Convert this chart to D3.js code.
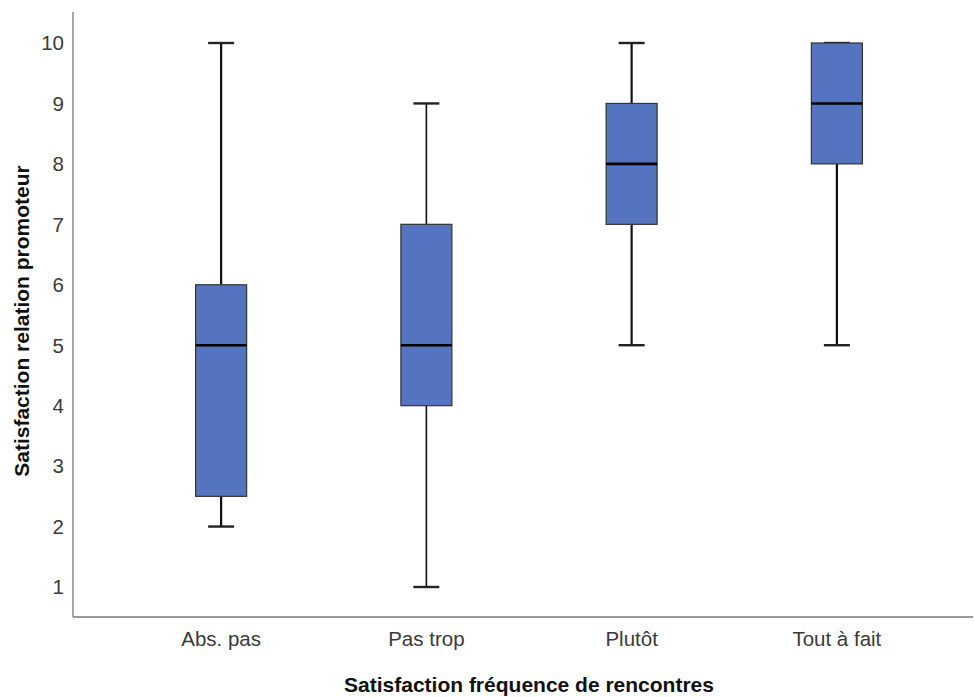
<!DOCTYPE html>
<html><head><meta charset="utf-8">
<script src="https://cdn.jsdelivr.net/npm/d3@7"></script>
<style>body{margin:0;background:#fff}svg{display:block}text{font-family:"Liberation Sans",Arial,sans-serif}</style>
</head><body><svg id="c" width="974" height="697"></svg>
<script>
const categories = ["Abs. pas", "Pas trop", "Plutôt", "Tout à fait"];
const whiskerLow = [2, 1, 5, 5];
const q1 = [2.5, 4, 7, 8];
const median = [5, 5, 8, 9];
const q3 = [6, 7, 9, 10];
const whiskerHigh = [10, 9, 10, 10];
const yTicks = [1, 2, 3, 4, 5, 6, 7, 8, 9, 10];

(function () {
const svg = d3.select("#c");
const pLeft = 73, pRight = 973, pTop = 12, pBottom = 617;
const x = d3.scaleBand().domain(categories).range([118.5, 939.5]);
const y = d3.scaleLinear().domain([1, 10]).range([587, 43]);
const boxW = 51, capW = 26;

// axes
svg.append("line").attr("x1", pLeft).attr("x2", pLeft).attr("y1", pTop).attr("y2", pBottom).attr("stroke", "#777").attr("stroke-width", 1.3);
svg.append("line").attr("x1", pLeft).attr("x2", pRight).attr("y1", pBottom).attr("y2", pBottom).attr("stroke", "#777").attr("stroke-width", 1.3);

svg.selectAll(".yt").data(yTicks).join("text")
  .attr("x", 64).attr("y", d => y(d)).attr("dy", "0.36em")
  .attr("text-anchor", "end").attr("font-size", 20.5).attr("fill", "#3a3a3a").text(d => d);

svg.selectAll(".xt").data(categories).join("text")
  .attr("x", d => x(d) + x.bandwidth() / 2).attr("y", 646)
  .attr("text-anchor", "middle").attr("font-size", 20.5).attr("fill", "#3a3a3a").text(d => d);

svg.append("text").attr("x", 529).attr("y", 692).attr("text-anchor", "middle")
  .attr("font-size", 21).attr("font-weight", "bold").attr("fill", "#111").text("Satisfaction fréquence de rencontres");
svg.append("text").attr("transform", "translate(29,321) rotate(-90)").attr("text-anchor", "middle")
  .attr("font-size", 21).attr("font-weight", "bold").attr("fill", "#111").text("Satisfaction relation promoteur");

const g = svg.selectAll(".box").data(categories.map((c, i) => ({c, i}))).join("g");
const cx = d => x(d.c) + x.bandwidth() / 2;
// whisker stems
g.append("line").attr("x1", cx).attr("x2", cx).attr("y1", d => y(q3[d.i])).attr("y2", d => y(whiskerHigh[d.i])).attr("stroke", "#111").attr("stroke-width", d => d.i === 1 ? 1.6 : 2.2);
g.append("line").attr("x1", cx).attr("x2", cx).attr("y1", d => y(q1[d.i])).attr("y2", d => y(whiskerLow[d.i])).attr("stroke", "#111").attr("stroke-width", d => d.i === 1 ? 1.6 : 2.2);
// caps
g.append("line").attr("x1", d => cx(d) - capW / 2).attr("x2", d => cx(d) + capW / 2).attr("y1", d => y(whiskerHigh[d.i])).attr("y2", d => y(whiskerHigh[d.i])).attr("stroke", "#222").attr("stroke-width", 2.4);
g.append("line").attr("x1", d => cx(d) - capW / 2).attr("x2", d => cx(d) + capW / 2).attr("y1", d => y(whiskerLow[d.i])).attr("y2", d => y(whiskerLow[d.i])).attr("stroke", "#222").attr("stroke-width", 2.4);
// boxes
g.append("rect").attr("x", d => cx(d) - boxW / 2).attr("width", boxW)
  .attr("y", d => y(q3[d.i])).attr("height", d => y(q1[d.i]) - y(q3[d.i]))
  .attr("fill", "#5474bf").attr("stroke", "#333").attr("stroke-width", 1.2);
// median
g.append("line").attr("x1", d => cx(d) - boxW / 2).attr("x2", d => cx(d) + boxW / 2).attr("y1", d => y(median[d.i])).attr("y2", d => y(median[d.i])).attr("stroke", "#000").attr("stroke-width", 2.6);
})();
</script></body></html>
